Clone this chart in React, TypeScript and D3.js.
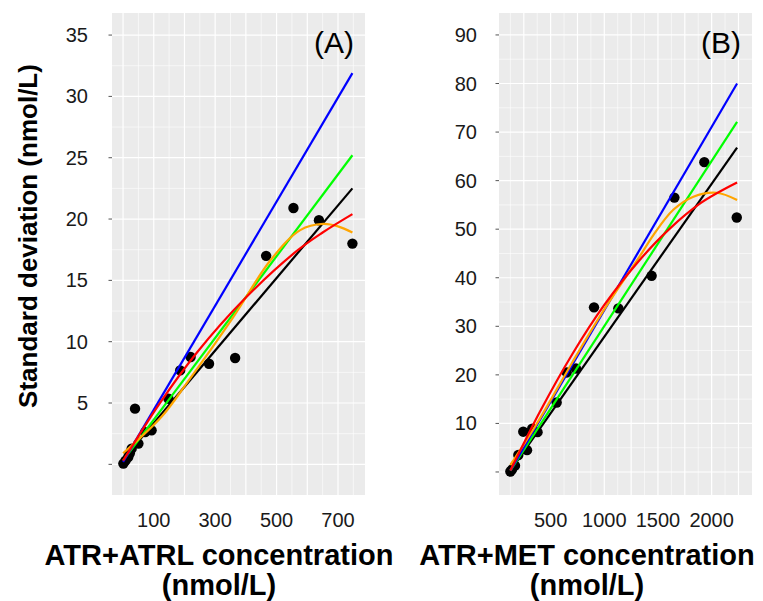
import React from 'react';
import * as d3 from 'd3';

const W = 763;
const H = 601;

// ---------- Panel A data (ATR+ATRL) ----------
const aPointX = [1, 8, 17, 22, 28, 39, 50, 72, 93, 148, 186, 220, 280, 365, 466, 555, 638, 747];
const aPointY = [0.06, 0.3, 0.6, 0.9, 1.28, 4.54, 1.69, 2.63, 2.77, 5.35, 7.66, 8.75, 8.2, 8.67, 17.0, 20.9, 19.9, 18.0];
const aLinX = [0, 747];
const aBlueY = [0.2, 31.9];
const aGreenY = [0.3, 25.2];
const aBlackY = [0.4, 22.5];
const aRedX = [0, 120, 240, 400, 566, 650, 747];
const aRedY = [0.3, 5.0, 9.1, 13.6, 17.4, 18.9, 20.4];
const aOrangeX = [0, 126, 207, 359, 479, 577, 652, 700, 747];
const aOrangeY = [0.9, 3.9, 6.6, 12.0, 16.6, 19.1, 19.6, 19.4, 18.9];
const aYTicks = [0, 5, 10, 15, 20, 25, 30, 35];
const aYLabels = [5, 10, 15, 20, 25, 30, 35];
const aXLabels = [100, 300, 500, 700];
const aXGrid = [0, 50, 100, 150, 200, 250, 300, 350, 400, 450, 500, 550, 600, 650, 700, 750];
const aYGrid = [0, 2.5, 5, 7.5, 10, 12.5, 15, 17.5, 20, 22.5, 25, 27.5, 30, 32.5, 35];

// ---------- Panel B data (ATR+MET) ----------
const bPointX = [125, 140, 168, 199, 245, 280, 328, 378, 556, 650, 736, 904, 1131, 1441, 1653, 1932, 2234];
const bPointY = [0.1, 0.5, 1.3, 3.5, 8.3, 4.5, 8.9, 8.2, 14.3, 20.5, 21.3, 33.9, 33.7, 40.4, 56.5, 63.8, 52.4];
const bLinX = [125, 2237];
const bBlueY = [0.3, 80.0];
const bGreenY = [0.3, 72.1];
const bBlackY = [0.3, 66.8];
const bRedX = [125, 400, 700, 1000, 1300, 1600, 1900, 2237];
const bRedY = [0.3, 12.4, 24.2, 34.4, 42.9, 49.9, 55.4, 59.6];
const bOrangeX = [125, 400, 700, 1000, 1333, 1457, 1643, 1830, 2047, 2237];
const bOrangeY = [1.4, 11.0, 22.5, 33.5, 44.5, 48.8, 54.0, 56.7, 57.5, 56.0];
const bYTicks = [0, 10, 20, 30, 40, 50, 60, 70, 80, 90];
const bYLabels = [10, 20, 30, 40, 50, 60, 70, 80, 90];
const bXLabels = [500, 1000, 1500, 2000];
const bXGrid = [125, 250, 375, 500, 625, 750, 875, 1000, 1125, 1250, 1375, 1500, 1625, 1750, 1875, 2000, 2125, 2250];
const bYGrid = [0, 5, 10, 15, 20, 25, 30, 35, 40, 45, 50, 55, 60, 65, 70, 75, 80, 85, 90];

type Series = { xs: number[]; ys: number[]; color: string };

type PanelProps = {
  x0: number; x1: number; y0: number; y1: number;
  xDomain: [number, number]; yDomain: [number, number];
  px: number[]; py: number[];
  series: Series[];
  yTicks: number[]; yLabels: number[]; xLabels: number[];
  xGrid: number[]; xMajorEvery: number;
  yGrid: number[]; yMajorEvery: number;
  tag: string;
  yLabelRight: number;
};

const FONT = "Arial, 'Liberation Sans', Helvetica, sans-serif";

function Panel(p: PanelProps) {
  const x = d3.scaleLinear().domain(p.xDomain).range([p.x0, p.x1]);
  const y = d3.scaleLinear().domain(p.yDomain).range([p.y1, p.y0]);
  const line = d3.line<[number, number]>()
    .x(d => x(d[0]))
    .y(d => y(d[1]))
    .curve(d3.curveCatmullRom.alpha(0.5));
  const isMajor = (v: number, every: number) => Math.abs(v / every - Math.round(v / every)) < 1e-6;
  return (
    <g>
      <rect x={p.x0} y={p.y0} width={p.x1 - p.x0} height={p.y1 - p.y0} fill="#EBEBEB" />
      {p.yGrid.map(v => (
        <line key={'gy' + v} x1={p.x0} x2={p.x1} y1={y(v)} y2={y(v)} stroke="#FFFFFF"
          strokeWidth={isMajor(v, p.yMajorEvery) ? 1.2 : 0.6} />
      ))}
      {p.xGrid.map(v => (
        <line key={'gx' + v} x1={x(v)} x2={x(v)} y1={p.y0} y2={p.y1} stroke="#FFFFFF"
          strokeWidth={isMajor(v, p.xMajorEvery) ? 1.2 : 0.6} />
      ))}
      {p.px.map((v, i) => (
        <circle key={'pt' + i} cx={x(v)} cy={y(p.py[i])} r={5.2} fill="#000000" />
      ))}
      {p.series.map((s, i) => (
        <path key={'s' + i} d={line(s.xs.map((v, j) => [v, s.ys[j]] as [number, number])) || ''}
          fill="none" stroke={s.color} strokeWidth={2.2} />
      ))}
      {p.yTicks.map(v => (
        <line key={'yt' + v} x1={p.x0 - 3.5} x2={p.x0} y1={y(v)} y2={y(v)} stroke="#555" strokeWidth={1} />
      ))}
      {p.yLabels.map(v => (
        <text key={'yl' + v} x={p.yLabelRight} y={y(v)} dy="0.35em" textAnchor="end"
          fontFamily={FONT} fontSize={20} fill="#1a1a1a">{v}</text>
      ))}
      {p.xLabels.map(v => (
        <text key={'xl' + v} x={x(v)} y={527} textAnchor="middle"
          fontFamily={FONT} fontSize={20} fill="#1a1a1a">{v}</text>
      ))}
      <text x={p.x1 - 11} y={53} textAnchor="end" fontFamily={FONT} fontSize={30} fill="#000">{p.tag}</text>
    </g>
  );
}

export default function App() {
  const aSeries: Series[] = [
    { xs: aLinX, ys: aBlackY, color: '#000000' },
    { xs: aLinX, ys: aGreenY, color: '#00FF00' },
    { xs: aLinX, ys: aBlueY, color: '#0000FF' },
    { xs: aOrangeX, ys: aOrangeY, color: '#FFA500' },
    { xs: aRedX, ys: aRedY, color: '#FF0000' },
  ];
  const bSeries: Series[] = [
    { xs: bLinX, ys: bBlackY, color: '#000000' },
    { xs: bLinX, ys: bGreenY, color: '#00FF00' },
    { xs: bLinX, ys: bBlueY, color: '#0000FF' },
    { xs: bOrangeX, ys: bOrangeY, color: '#FFA500' },
    { xs: bRedX, ys: bRedY, color: '#FF0000' },
  ];
  return (
    <div style={{ position: 'absolute', left: 0, top: 0 }}>
      <svg width={W} height={H} viewBox={`0 0 ${W} ${H}`} style={{ display: 'block', background: '#fff' }}>
        <Panel x0={112} x1={365} y0={13} y1={495}
          xDomain={[-36, 788]} yDomain={[-2.5, 36.8]}
          px={aPointX} py={aPointY} series={aSeries}
          yTicks={aYTicks} yLabels={aYLabels} xLabels={aXLabels}
          xGrid={aXGrid} xMajorEvery={100} yGrid={aYGrid} yMajorEvery={5}
          tag="(A)" yLabelRight={88} />
        <Panel x0={499} x1={752} y0={13} y1={495}
          xDomain={[19, 2376]} yDomain={[-4.74, 94.52]}
          px={bPointX} py={bPointY} series={bSeries}
          yTicks={bYTicks} yLabels={bYLabels} xLabels={bXLabels}
          xGrid={bXGrid} xMajorEvery={250} yGrid={bYGrid} yMajorEvery={10}
          tag="(B)" yLabelRight={477} />
        <text transform="translate(37,236) rotate(-90)" textAnchor="middle"
          fontFamily={FONT} fontSize={26} fontWeight="bold" fill="#000">Standard deviation (nmol/L)</text>
        <text x={219} y={565} textAnchor="middle" fontFamily={FONT} fontSize={29} fontWeight="bold" fill="#000">ATR+ATRL concentration</text>
        <text x={219} y={595} textAnchor="middle" fontFamily={FONT} fontSize={29} fontWeight="bold" fill="#000">(nmol/L)</text>
        <text x={587} y={565} textAnchor="middle" fontFamily={FONT} fontSize={29} fontWeight="bold" fill="#000">ATR+MET concentration</text>
        <text x={587} y={595} textAnchor="middle" fontFamily={FONT} fontSize={29} fontWeight="bold" fill="#000">(nmol/L)</text>
      </svg>
    </div>
  );
}
